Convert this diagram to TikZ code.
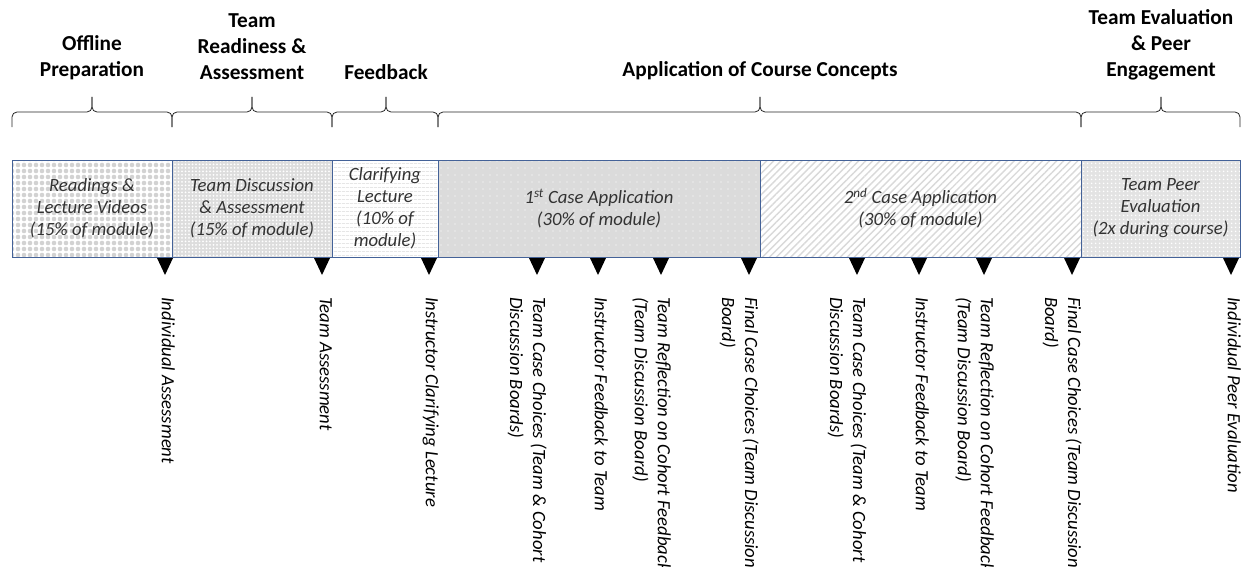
\documentclass[tikz,border=0pt]{standalone}
\usepackage{fontspec}
\setmainfont{Carlito}
\usetikzlibrary{positioning,patterns,patterns.meta}
\definecolor{frameblue}{RGB}{68,98,152}
\tikzstyle{phase}   = [draw=frameblue, line width=0.9pt, minimum height=97, inner sep=0, outer sep=0, align=center, font=\fontsize{18.7}{22}\selectfont\itshape, text=black!80]
\tikzstyle{stage}   = [anchor=south, inner sep=0, align=center, font=\fontsize{21.3}{26}\selectfont\bfseries]
\tikzstyle{bracket} = [rounded corners=5pt, line width=0.8pt, black!85]
\tikzstyle{marker}  = [fill=black]
\tikzstyle{event}   = [rotate=-90, anchor=north west, inner sep=0, align=left, font=\fontsize{18.7}{23}\selectfont\itshape]

\begin{document}
\begin{tikzpicture}[x=1pt, y=-1pt]
		\useasboundingbox (0,0) rectangle (1241,567);
		\clip (0,0) rectangle (1241,567);
		% phases of the module
		\node[phase, minimum width=160, anchor=north west, preaction={fill=white}, pattern={Dots[distance=6pt,radius=2.3pt]}, pattern color=gray!35] (prep) at (12,160) {Readings \&\\Lecture Videos\\(15\% of module)};
		\node[phase, minimum width=160, right=0pt of prep, preaction={fill=gray!27}, pattern={Dots[distance=3.5pt,radius=1pt]}, pattern color=white] (ready) {Team Discussion\\\& Assessment\\(15\% of module)};
		\node[phase, minimum width=106, right=0pt of ready, preaction={fill=white}, pattern={Lines[angle=0,distance=4pt,line width=0.8pt]}, pattern color=gray!30] (clar) {Clarifying\\Lecture\\(10\% of\\module)};
		\node[phase, minimum width=322, right=0pt of clar, preaction={fill=gray!28}, pattern={Dots[distance=7pt,radius=0.7pt]}, pattern color=white] (caseA) {1\textsuperscript{st} Case Application\\(30\% of module)};
		\node[phase, minimum width=321, right=0pt of caseA, preaction={fill=white}, pattern={Lines[angle=45,distance=5pt,line width=1.4pt]}, pattern color=gray!30] (caseB) {2\textsuperscript{nd} Case Application\\(30\% of module)};
		\node[phase, minimum width=159, right=0pt of caseB, preaction={fill=gray!22}, pattern={Dots[distance=4pt,radius=1pt]}, pattern color=white] (peer) {Team Peer\\Evaluation\\(2x during course)};

		% headings and braces
		\node[stage] (offline) at (92,80) {Offline\\Preparation};
		\node[stage] (readiness) at (252,80) {Team\\Readiness \&\\Assessment};
		\node[stage] (feedback) at (386,80) {Feedback};
		\node[stage] (application) at (760,80) {Application of Course Concepts};
		\node[stage] (evaluation) at (1161,80) {Team Evaluation\\\& Peer\\Engagement};
		\foreach \a/\m/\b in {12/92/172, 172/252/332, 332/386/438, 438/760/1081, 1081/1161/1240}{
				\draw[bracket] (\a,127) |- (\m,112) -- (\m,97);
				\draw[bracket] (\b,127) |- (\m,112) -- (\m,97);
			}

		% events along the timeline
		\foreach \x/\txt [count=\i] in {
				165/Individual Assessment,
				322/Team Assessment,
				429/Instructor Clarifying Lecture,
				537/Team Case Choices (Team \& Cohort\\Discussion Boards),
				598/Instructor Feedback to Team,
				661/Team Reflection on Cohort Feedback\\(Team Discussion Board),
				749/Final Case Choices (Team Discussion\\Board),
				857/Team Case Choices (Team \& Cohort\\Discussion Boards),
				919/Instructor Feedback to Team,
				984/Team Reflection on Cohort Feedback\\(Team Discussion Board),
				1072/Final Case Choices (Team Discussion\\Board),
				1231/Individual Peer Evaluation}{
				\fill[marker] ({\x-8},258) -- ({\x+8},258) -- (\x,275) -- cycle;
				\node[event] (ev\i) at ({\x+10},297) {\txt};
			}
	\end{tikzpicture}
\end{document}
